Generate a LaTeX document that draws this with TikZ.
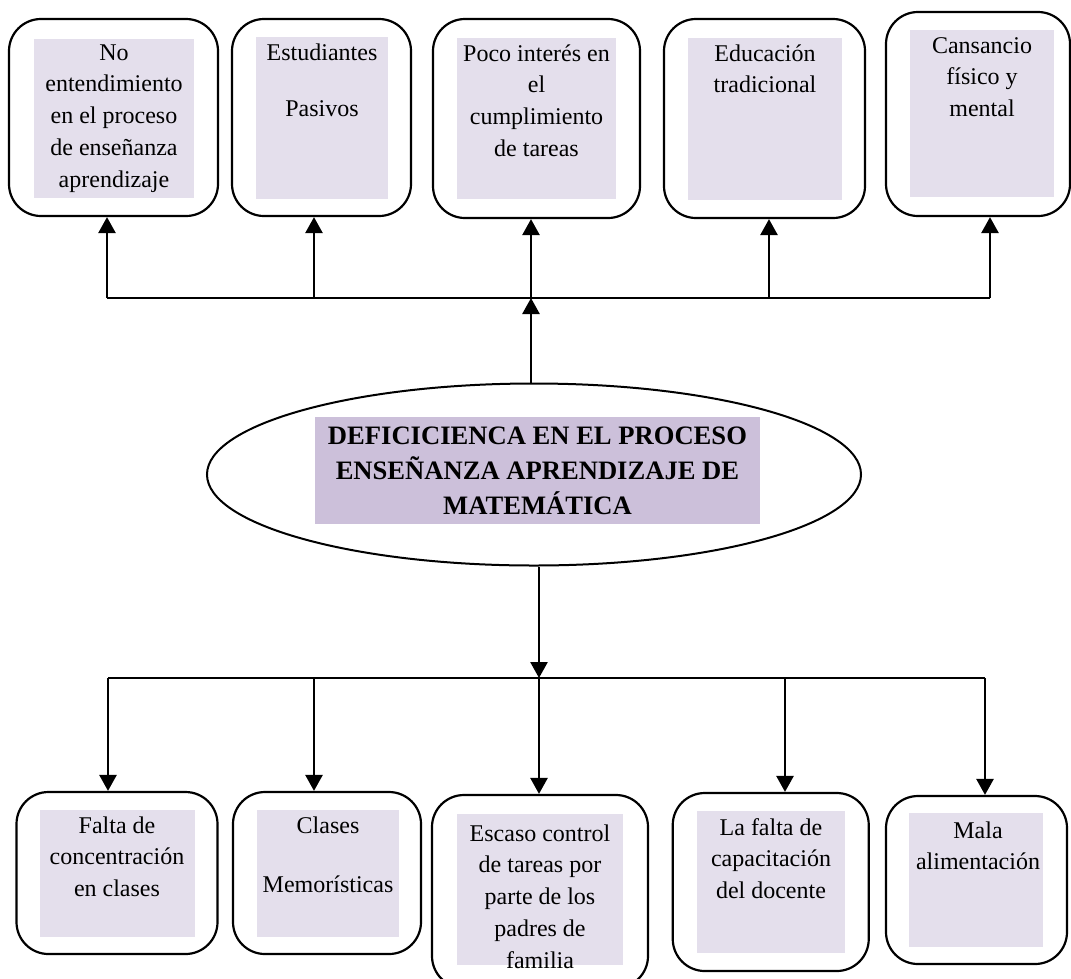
\documentclass[tikz,border=0pt]{standalone}
\usepackage{fontspec}
\setmainfont{Liberation Serif}
\usetikzlibrary{shapes.geometric,arrows.meta}
\definecolor{lilaclight}{HTML}{E4DFEC}
\definecolor{lilacmid}{HTML}{CCC0DA}
% invisible strut that fixes the first baseline below the top of a text block
\newcommand\firstline{\rule{0pt}{22pt}}

\begin{document}
\begin{tikzpicture}[x=1pt,y=-1pt,
  outerbox/.style={draw=black, line width=2.2pt, rounded corners=32pt, inner sep=0pt},
  shadebox/.style={fill=lilaclight, inner sep=0pt},
  boxtext/.style={anchor=north, inner sep=0pt, align=center,
    font=\fontsize{24}{31.7}\selectfont},
  link/.style={line width=2.6pt},
  arrowlink/.style={link, -{Triangle[width=17pt,length=16pt]}}
]
\useasboundingbox (0,0) rectangle (1071,978);

% ---------- effects (top row) ----------
\node[outerbox, minimum width=209pt, minimum height=197pt] (t1) at (113.5,117.5) {};
\node[shadebox, minimum width=160pt, minimum height=159pt] (t1f) at (114,118.5) {};
\node[boxtext] (t1t) at (114,38) {\firstline No\\entendimiento\\en el proceso\\de enseñanza\\aprendizaje};

\node[outerbox, minimum width=179pt, minimum height=197pt] (t2) at (321.5,117.5) {};
\node[shadebox, minimum width=132pt, minimum height=162pt] (t2f) at (322,118) {};
\node[boxtext] (t2t) at (322,38) {\firstline Estudiantes\\[25pt]Pasivos};

\node[outerbox, minimum width=207pt, minimum height=199pt] (t3) at (536.5,118.5) {};
\node[shadebox, minimum width=159pt, minimum height=161pt] (t3f) at (536.5,118.5) {};
\node[boxtext] (t3t) at (536.5,39) {\firstline Poco interés en\\el\\cumplimiento\\de tareas};

\node[outerbox, minimum width=201pt, minimum height=199pt] (t4) at (764.5,118.5) {};
\node[shadebox, minimum width=154pt, minimum height=162pt] (t4f) at (765,119) {};
\node[boxtext] (t4t) at (765,39) {\firstline Educación\\tradicional};

\node[outerbox, minimum width=184pt, minimum height=204pt] (t5) at (978,114) {};
\node[shadebox, minimum width=144pt, minimum height=167pt] (t5f) at (982,113.5) {};
\node[boxtext] (t5t) at (982,31) {\firstline Cansancio\\físico y\\mental};

% ---------- central problem ----------
\node[draw=black, line width=2pt, ellipse, minimum width=654pt, minimum height=182pt, inner sep=0pt] (core) at (534,474.5) {};
\node[fill=lilacmid, inner sep=0pt, minimum width=445pt, minimum height=107pt, align=center,
  font=\fontsize{26.6}{35}\selectfont\bfseries] (coretext) at (537.5,470.5)
  {DEFICICIENCA EN EL PROCESO\\ENSEÑANZA APRENDIZAJE DE\\MATEMÁTICA};

% ---------- causes (bottom row) ----------
\node[outerbox, minimum width=201pt, minimum height=162pt] (b1) at (117,873) {};
\node[shadebox, minimum width=155pt, minimum height=127pt] (b1f) at (117.3,873.5) {};
\node[boxtext] (b1t) at (117,811) {\firstline Falta de\\concentración\\en clases};

\node[outerbox, minimum width=188pt, minimum height=162pt] (b2) at (327,873) {};
\node[shadebox, minimum width=142pt, minimum height=127pt] (b2f) at (328,873.5) {};
\node[boxtext] (b2t) at (328,811) {\firstline Clases\\[28pt]Memorísticas};

\node[outerbox, minimum width=216pt, minimum height=193pt] (b3) at (540,891.5) {};
\node[shadebox, minimum width=166pt, minimum height=151pt] (b3f) at (540,889.5) {};
\node[boxtext] (b3t) at (540,819) {\firstline Escaso control\\de tareas por\\parte de los\\padres de\\familia};

\node[outerbox, minimum width=196pt, minimum height=178pt] (b4) at (770.75,882) {};
\node[shadebox, minimum width=148pt, minimum height=142pt] (b4f) at (771,882) {};
\node[boxtext] (b4t) at (771,813) {\firstline La falta de\\capacitación\\del docente};

\node[outerbox, minimum width=181pt, minimum height=168pt] (b5) at (976.5,880) {};
\node[shadebox, minimum width=134pt, minimum height=134pt] (b5f) at (976,880) {};
\node[boxtext] (b5t) at (978,816) {\firstline Mala\\alimentación};

% ---------- upper distribution bar ----------
\coordinate (tb1) at (107,298);
\coordinate (tb2) at (314,298);
\coordinate (tb3) at (531,298);
\coordinate (tb4) at (769,298);
\coordinate (tb5) at (990,298);
\draw[link] (tb1) -- (tb5);
\foreach \i in {1,...,5}
  \draw[arrowlink] (tb\i) -- (tb\i |- t\i.south);
\draw[arrowlink] (core.north -| tb3) -- (tb3);

% ---------- lower distribution bar ----------
\coordinate (bb1) at (108,678);
\coordinate (bb2) at (314,678);
\coordinate (bb3) at (539,678);
\coordinate (bb4) at (785,678);
\coordinate (bb5) at (985,678);
\draw[arrowlink] (core.south -| bb3) -- (bb3);
\draw[link] (bb1) -- (bb5);
\foreach \i in {1,...,5}
  \draw[arrowlink] (bb\i) -- (bb\i |- b\i.north);
\end{tikzpicture}
\end{document}
